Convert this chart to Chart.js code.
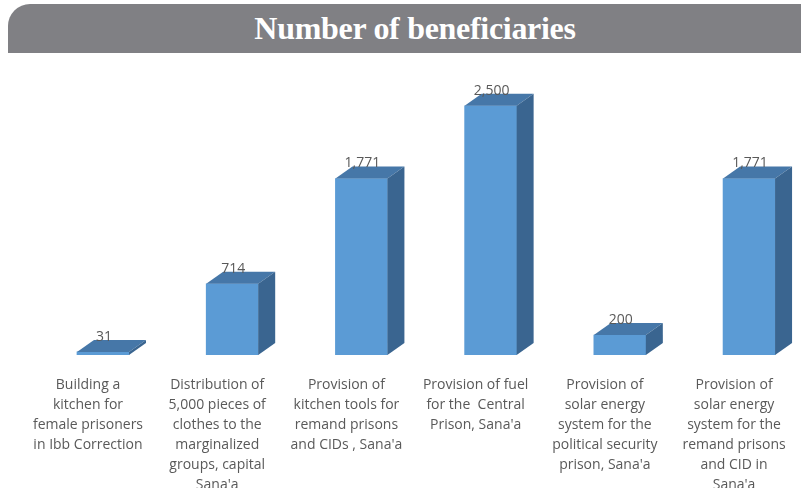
<!DOCTYPE html>
<html lang="en">
<head>
    <meta charset="UTF-8">
    <title>Number of beneficiaries</title>
    <script src="https://cdn.jsdelivr.net/npm/chart.js"></script>
    <style>
        html, body { margin: 0; padding: 0; background: #fff; overflow: hidden; }
        #wrap { position: relative; width: 801px; height: 488px; }
        #banner {
            position: absolute; left: 8px; top: 4px; width: 800px; height: 49px;
            background: #808084; border-top-left-radius: 22px;
        }
        #banner h1 {
            margin: 0; position: absolute; left: 0; right: 0; top: 6px;
            text-align: center; padding-left: 14px;
            font: bold 32px "Liberation Serif", serif; color: #fff; letter-spacing: -0.3px;
        }
        #chart { position: absolute; left: 0; top: 0; }
    </style>
</head>
<body>
<div id="wrap">
    <div id="banner"><h1>Number of beneficiaries</h1></div>
    <canvas id="chart" width="801" height="488"></canvas>
</div>
<script>
// данные
const categories = [
    ["Building a", "kitchen for", "female prisoners", "in Ibb Correction"],
    ["Distribution of", "5,000 pieces of", "clothes to the", "marginalized", "groups, capital", "Sana'a"],
    ["Provision of", "kitchen tools for", "remand prisons", "and CIDs , Sana'a"],
    ["Provision of fuel", "for the  Central", "Prison, Sana'a"],
    ["Provision of", "solar energy", "system for the", "political security", "prison, Sana'a"],
    ["Provision of", "solar energy", "system for the", "remand prisons", "and CID in", "Sana'a"]
];
const beneficiaries = [31, 714, 1771, 2500, 200, 1771];

const DX = 17, DY = 12;

// 3D грани + подписи значений
const box3d = {
    id: "box3d",
    afterDatasetsDraw(chart) {
        const ctx = chart.ctx;
        const meta = chart.getDatasetMeta(0);
        meta.data.forEach((bar, i) => {
            const p = bar.getProps(["x", "y", "base", "width"], true);
            const l = p.x - p.width / 2, r = p.x + p.width / 2;
            ctx.save();
            ctx.fillStyle = "#4677a8";
            ctx.beginPath();
            ctx.moveTo(l, p.y);
            ctx.lineTo(l + DX, p.y - DY);
            ctx.lineTo(r + DX, p.y - DY);
            ctx.lineTo(r, p.y);
            ctx.closePath();
            ctx.fill();
            ctx.fillStyle = "#3a6590";
            ctx.beginPath();
            ctx.moveTo(r, p.y);
            ctx.lineTo(r + DX, p.y - DY);
            ctx.lineTo(r + DX, p.base - DY);
            ctx.lineTo(r, p.base);
            ctx.closePath();
            ctx.fill();
            ctx.fillStyle = "#595959";
            ctx.font = "14px 'Open Sans', sans-serif";
            ctx.textAlign = "center";
            ctx.textBaseline = "bottom";
            ctx.fillText(beneficiaries[i].toLocaleString("en-US"), p.x + 1, p.y - DY + 4);
            ctx.restore();
        });
    }
};

new Chart(document.getElementById("chart"), {
    type: "bar",
    data: {
        datasets: [{
            data: beneficiaries.map((v, i) => ({ x: i, y: v })),
            backgroundColor: "#5b9bd5",
            borderWidth: 0,
            barThickness: 52
        }]
    },
    options: {
        responsive: false,
        animation: false,
        layout: { padding: { top: 56, left: 0, right: 0, bottom: 0 } },
        plugins: { legend: { display: false }, tooltip: { enabled: false } },
        scales: {
            x: {
                type: "linear",
                offset: false,
                min: -0.797,
                max: 5.402,
                grid: { display: false, drawTicks: false, offset: false },
                border: { display: false },
                afterBuildTicks: s => { s.ticks = categories.map((c, i) => ({ value: i })); },
                afterFit: s => { s.height = 133; s.paddingLeft = 0; s.paddingRight = 0; },
                ticks: {
                    autoSkip: false,
                    maxRotation: 0,
                    padding: 20,
                    labelOffset: -15,
                    color: "#595959",
                    font: { family: "'Open Sans'", size: 14, lineHeight: 20 / 14 },
                    callback: (v, i) => categories[i]
                }
            },
            y: {
                display: false,
                min: 0,
                max: 3000
            }
        }
    },
    plugins: [box3d]
});
</script>
</body>
</html>
